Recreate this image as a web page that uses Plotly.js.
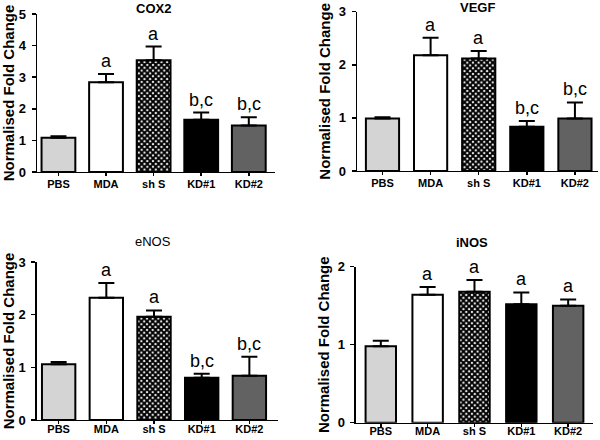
<!DOCTYPE html>
<html>
<head>
<meta charset="utf-8">
<script src="https://cdn.plot.ly/plotly-3.0.1.min.js"></script>
<style>html,body{margin:0;padding:0;background:#fff;}#chart{width:600px;height:440px;}</style>
</head>
<body>
<div id="chart"></div>
<script>
const categories = ['PBS', 'MDA', 'sh S', 'KD#1', 'KD#2'];

const cox2Values = [1.08, 2.84, 3.54, 1.65, 1.47];
const cox2Errors = [0.05, 0.26, 0.43, 0.23, 0.26];
const cox2Labels = ['', 'a', 'a', 'b,c', 'b,c'];

const vegfValues = [0.99, 2.18, 2.12, 0.835, 0.99];
const vegfErrors = [0.02, 0.33, 0.14, 0.105, 0.30];
const vegfLabels = ['', 'a', 'a', 'b,c', 'b,c'];

const enosValues = [1.06, 2.32, 1.96, 0.80, 0.84];
const enosErrors = [0.04, 0.28, 0.12, 0.08, 0.36];
const enosLabels = ['', 'a', 'a', 'b,c', 'b,c'];

const inosValues = [0.98, 1.64, 1.68, 1.52, 1.50];
const inosErrors = [0.07, 0.10, 0.15, 0.15, 0.08];
const inosLabels = ['', 'a', 'a', 'a', 'a'];

const panelTitles = ['COX2', 'VEGF', 'eNOS', 'iNOS'];
const yTickSets = [[0, 1, 2, 3, 4, 5], [0, 1, 2, 3], [0, 1, 2, 3], [0, 1, 2]];
const yAxisTitle = 'Normalised Fold Change';

const barFill = ['#d4d4d4', '#ffffff', '#ffffff', '#000000', '#626262'];
const checkered = [false, false, true, false, false];

const FONT = 'Liberation Sans, Arial, sans-serif';

const panels = [
  {v: cox2Values, e: cox2Errors, l: cox2Labels, xd: [0.0617, 0.4583], xr: [-0.45, 4.55], yd: [0.6091, 0.9682], w: 0.71, tx: 0.255, ty: 0.980, bold: true, so: -2},
  {v: vegfValues, e: vegfErrors, l: vegfLabels, xd: [0.595, 0.9967], xr: [-0.53, 4.48], yd: [0.6114, 0.9734], w: 0.69, tx: 0.795, ty: 0.982, bold: true, so: -2},
  {v: enosValues, e: enosErrors, l: enosLabels, xd: [0.0612, 0.4633], xr: [-0.46, 4.6], yd: [0.0455, 0.4045], w: 0.70, tx: 0.255, ty: 0.452, bold: false, so: -5},
  {v: inosValues, e: inosErrors, l: inosLabels, xd: [0.5933, 0.9883], xr: [-0.53, 4.53], yd: [0.0393, 0.3939], w: 0.65, tx: 0.787, ty: 0.448, bold: true, so: -5}
];

const data = [];
const layout = {
  width: 600, height: 440,
  margin: {l: 0, r: 0, t: 0, b: 0},
  paper_bgcolor: '#ffffff', plot_bgcolor: '#ffffff',
  showlegend: false,
  barmode: 'overlay',
  font: {family: FONT, color: '#000'},
  annotations: []
};

panels.forEach((p, i) => {
  const n = i + 1;
  const xa = 'x' + (n === 1 ? '' : n);
  const ya = 'y' + (n === 1 ? '' : n);
  const plainY = p.v.map((v, k) => checkered[k] ? null : v);
  const plainE = p.e.map((e, k) => checkered[k] ? 0 : e);
  const checkY = p.v.map((v, k) => checkered[k] ? v : null);
  const checkE = p.e.map((e, k) => checkered[k] ? e : 0);
  data.push({
    type: 'bar',
    x: categories,
    y: plainY,
    xaxis: xa, yaxis: ya,
    width: p.w,
    marker: {color: barFill, line: {color: '#000', width: 2}},
    error_y: {type: 'data', symmetric: false, array: plainE, arrayminus: plainE.map(() => 0), color: '#000', thickness: 2, width: 8}
  });
  data.push({
    type: 'bar',
    x: categories,
    y: checkY,
    xaxis: xa, yaxis: ya,
    width: p.w,
    marker: {
      color: '#000000',
      line: {color: '#000', width: 2},
      pattern: {shape: 'x', fgcolor: '#000000', bgcolor: '#ffffff', size: 4, solidity: 0.75, fillmode: 'replace'}
    },
    error_y: {type: 'data', symmetric: false, array: checkE, arrayminus: checkE.map(() => 0), color: '#000', thickness: 2, width: 8}
  });
  layout['xaxis' + (n === 1 ? '' : n)] = {
    domain: p.xd, anchor: ya, range: p.xr, type: 'category',
    showline: true, linecolor: '#000', linewidth: 1.5,
    ticks: 'outside', ticklen: 3, tickwidth: 1.5, tickcolor: '#000',
    ticklabelstandoff: p.so,
    showgrid: false, zeroline: false, fixedrange: true,
    tickfont: {family: FONT, size: 11, weight: 'bold', color: '#000'}
  };
  layout['yaxis' + (n === 1 ? '' : n)] = {
    domain: p.yd, anchor: xa, range: [0, yTickSets[i][yTickSets[i].length - 1]],
    tickmode: 'array', tickvals: yTickSets[i],
    showline: true, linecolor: '#000', linewidth: 1.5,
    ticks: 'outside', ticklen: 4, tickwidth: 1.5, tickcolor: '#000',
    ticklabelstandoff: 3,
    showgrid: false, zeroline: false, fixedrange: true,
    tickfont: {family: FONT, size: 13, weight: 'bold', color: '#000'},
    title: {text: yAxisTitle, font: {family: FONT, size: 15, weight: 'bold', color: '#000'}, standoff: 4}
  };
  layout.annotations.push({
    xref: 'paper', yref: 'paper', x: p.tx, y: p.ty, xanchor: 'center', yanchor: 'middle',
    text: panelTitles[i], showarrow: false,
    font: {family: FONT, size: 13, weight: p.bold ? 'bold' : 'normal', color: '#000'}
  });
  p.l.forEach((lab, k) => {
    if (!lab) return;
    layout.annotations.push({
      xref: xa, yref: ya, x: categories[k], y: p.v[k] + p.e[k],
      xanchor: 'center', yanchor: 'bottom', yshift: 1,
      text: lab, showarrow: false,
      font: {family: FONT, size: 18, color: '#000'}
    });
  });
});

Plotly.newPlot('chart', data, layout, {displayModeBar: false, staticPlot: true});
</script>
</body>
</html>
